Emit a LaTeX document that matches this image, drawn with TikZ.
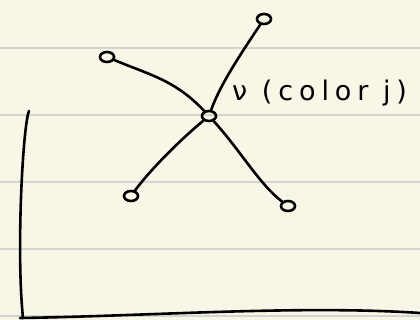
\documentclass[tikz,border=0pt]{standalone}
\usepackage{fontspec}
\setmainfont{DejaVu Sans}
\usetikzlibrary{shapes.geometric}
\definecolor{paper}{RGB}{248,246,230}
\definecolor{rule}{RGB}{212,212,208}
\begin{document}
\begin{tikzpicture}[x=1pt,y=-1pt,
  vtx/.style={draw,ellipse,line width=2.6pt,minimum width=14pt,minimum height=10pt,inner sep=0pt},
  ink/.style={line width=2.6pt,line cap=round},
  ruled/.style={draw=rule,line width=1.2pt}]
\fill[paper] (0,0) rectangle (420,320);
\useasboundingbox (0,0) rectangle (420,320);
\foreach \y in {48,115,182,249,316} \draw[ruled] (0,\y) -- (420,\y);
\node[vtx] (c) at (209,116) {};
\node[vtx] (tr) at (264,19) {};
\node[vtx] (tl) at (107,57) {};
\node[vtx] (bl) at (131,196) {};
\node[vtx] (br) at (288,206) {};
\draw[ink] (tl) .. controls (150,75) and (175,80) .. (c);
\draw[ink] (tr) .. controls (240,55) and (220,85) .. (c);
\draw[ink] (bl) .. controls (150,170) and (180,140) .. (c);
\draw[ink] (c) .. controls (240,150) and (260,185) .. (br);
\node[anchor=base west,font=\fontsize{27}{27}\selectfont\addfontfeature{LetterSpace=22},inner sep=0pt] (lab) at (232,101) {ν (color j)};
\coordinate (a1) at (29,111);
\coordinate (a2) at (23,318);
\coordinate (b1) at (20,318);
\coordinate (b2) at (420,313);
\draw[ink] (a1) .. controls (23,125) and (16,250) .. (a2);
\draw[ink] (b1) .. controls (150,316) and (300,305) .. (b2);
\end{tikzpicture}
\end{document}
